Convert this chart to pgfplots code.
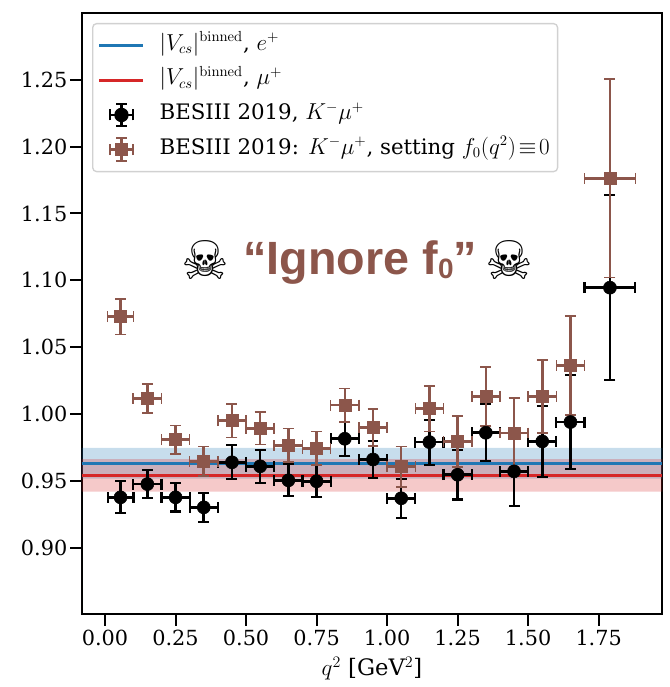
\documentclass[border=0pt]{standalone}
\usepackage[no-math]{fontspec}
\setmainfont{DejaVu Serif}
\newfontfamily\heros{Liberation Sans}
\newfontfamily\djs{DejaVu Sans}
\usepackage{pgfplots}
\usepackage{pgfplotstable}
\pgfplotsset{compat=1.18}
\definecolor{tabblue}{HTML}{1F77B4}
\definecolor{tabred}{HTML}{D62728}
\definecolor{tabbrown}{HTML}{8C564B}
\pgfplotstableread{
x ex y ey
0.055 0.046 0.9377 0.0120
0.15 0.05 0.9476 0.0103
0.25 0.05 0.9377 0.0106
0.35 0.05 0.9302 0.0110
0.45 0.05 0.9639 0.0128
0.55 0.05 0.9609 0.0122
0.65 0.05 0.9504 0.0120
0.75 0.05 0.9497 0.0120
0.85 0.05 0.9815 0.0128
0.95 0.05 0.9660 0.0141
1.05 0.05 0.9370 0.0147
1.15 0.05 0.9790 0.0168
1.25 0.05 0.9546 0.0185
1.35 0.05 0.9860 0.0213
1.45 0.05 0.9571 0.0257
1.55 0.05 0.9795 0.0263
1.65 0.05 0.9940 0.0353
1.79 0.09 1.0945 0.0690
}\besblack
\pgfplotstableread{
x ex y ey
0.055 0.046 1.0728 0.0133
0.15 0.05 1.0117 0.0109
0.25 0.05 0.9808 0.0107
0.35 0.05 0.9646 0.0110
0.45 0.05 0.9950 0.0125
0.55 0.05 0.9893 0.0121
0.65 0.05 0.9766 0.0125
0.75 0.05 0.9743 0.0125
0.85 0.05 1.0067 0.0125
0.95 0.05 0.9900 0.0138
1.05 0.05 0.9606 0.0150
1.15 0.05 1.0040 0.0171
1.25 0.05 0.9796 0.0191
1.35 0.05 1.0132 0.0221
1.45 0.05 0.9858 0.0264
1.55 0.05 1.0132 0.0272
1.65 0.05 1.0364 0.0371
1.79 0.09 1.1763 0.0741
}\besbrown
\pgfplotstableread{
x y
-0.0826 0.9516
1.9755 0.9516
1.9755 0.9746
-0.0826 0.9746
}\bandblue
\pgfplotstableread{
x y
-0.0826 0.9419
1.9755 0.9419
1.9755 0.9663
-0.0826 0.9663
}\bandred
\pgfplotstableread{
x y
-0.0826 0.9631
1.9755 0.9631
}\lineblue
\pgfplotstableread{
x y
-0.0826 0.9541
1.9755 0.9541
}\linered
\begin{document}
\begin{tikzpicture}
\path[use as bounding box] (0,0) rectangle (502.5pt,515.25pt);
\begin{axis}[
  at={(61.3pt,54.5pt)}, anchor=south west,
  scale only axis, width=435.4pt, height=451.2pt,
  xmin=-0.0826, xmax=1.9755, ymin=0.8502, ymax=1.3001,
  xtick={0,0.25,0.5,0.75,1,1.25,1.5,1.75},
  ytick={0.9,0.95,1,1.05,1.1,1.15,1.2,1.25},
  tick pos=left, tick align=outside,
  major tick length=8.5pt,
  every tick/.style={black,line width=1.5pt},
  axis line style={line width=1.7pt,black},
  tick label style={font=\fontsize{15.6}{18}\selectfont,
    /pgf/number format/assume math mode=true,
    /pgf/number format/fixed,/pgf/number format/fixed zerofill,/pgf/number format/precision=2},
  yticklabel style={xshift=1.2pt},
  xlabel={$q^2$ [GeV$^2$]},
  xlabel style={font=\fontsize{17}{18}\selectfont,yshift=-1.5pt},
  legend style={
    at={(0.0177,0.983)}, anchor=north west, cells={anchor=west},
    draw=black!18, line width=1pt, rounded corners=3pt, fill=white,
    font=\fontsize{16}{18}\selectfont,
    nodes={text height=12pt,text depth=5pt},
    row sep=5pt, inner xsep=4pt, inner ysep=6pt,
  },
  legend cell align=left,
]
\addplot[forget plot,fill=tabblue,fill opacity=0.25,draw=none] table {\bandblue} \closedcycle;
\addplot[forget plot,fill=tabred,fill opacity=0.25,draw=none] table {\bandred} \closedcycle;
\addplot[tabblue,line width=2.2pt,
  legend image code/.code={\draw[sharp corners,tabblue,line width=2.2pt] (0,0)--(33pt,0); \path (42pt,0);}] table {\lineblue};
\addlegendentry{$|V_{cs}|^{\mathrm{binned}}$, $e^+$}
\addplot[tabred,line width=2.2pt,
  legend image code/.code={\draw[sharp corners,tabred,line width=2.2pt] (0,0)--(33pt,0); \path (42pt,0);}] table {\linered};
\addlegendentry{$|V_{cs}|^{\mathrm{binned}}$, $\mu^+$}
\addplot[black,only marks,mark=*,mark size=4.9pt,
  error bars/.cd,x dir=both,x explicit,y dir=both,y explicit,
  error bar style={line width=1.9pt,black},
  error mark options={rotate=90,mark size=4.1pt,line width=1.6pt,black},
  /pgfplots/legend image code/.code={
    \begin{scope}[sharp corners]
    \draw[black,line width=1.9pt] (16.5pt,-8.5pt)--(16.5pt,8.5pt) (8pt,0)--(25pt,0);
    \draw[black,line width=1.6pt] (12.4pt,-8.5pt)--(20.6pt,-8.5pt) (12.4pt,8.5pt)--(20.6pt,8.5pt)
      (8pt,-4.1pt)--(8pt,4.1pt) (25pt,-4.1pt)--(25pt,4.1pt);
    \fill[black] (16.5pt,0) circle (4.9pt);
    \path (42pt,0);
    \end{scope}}
] table[x=x,y=y,x error=ex,y error=ey] {\besblack};
\addlegendentry{BESIII 2019, $K^-\mu^+$}
\addplot[tabbrown,only marks,mark=square*,mark size=4.5pt,
  error bars/.cd,x dir=both,x explicit,y dir=both,y explicit,
  error bar style={line width=1.9pt,tabbrown},
  error mark options={rotate=90,mark size=4.1pt,line width=1.2pt,tabbrown},
  /pgfplots/legend image code/.code={
    \begin{scope}[sharp corners]
    \draw[tabbrown,line width=1.9pt] (16.5pt,-8.5pt)--(16.5pt,8.5pt) (8pt,0)--(25pt,0);
    \draw[tabbrown,line width=1.2pt] (12.4pt,-8.5pt)--(20.6pt,-8.5pt) (12.4pt,8.5pt)--(20.6pt,8.5pt)
      (8pt,-4.1pt)--(8pt,4.1pt) (25pt,-4.1pt)--(25pt,4.1pt);
    \fill[tabbrown] (12pt,-4.5pt) rectangle (21pt,4.5pt);
    \path (42pt,0);
    \end{scope}}
] table[x=x,y=y,x error=ex,y error=ey] {\besbrown};
\addlegendentry{BESIII 2019: $K^-\mu^+$, setting $f_0(q^2)\!\equiv\!0$}
\node[font=\heros\bfseries\fontsize{35}{40}\selectfont,text=tabbrown,inner sep=0pt] at (axis cs:0.905,1.1135)
  {“Ignore f\raisebox{-3pt}{\fontsize{21}{22}\selectfont 0}”};
\node[font=\djs\fontsize{40}{44}\selectfont,inner sep=0pt] at (axis cs:0.356,1.115) {☠};
\node[font=\djs\fontsize{40}{44}\selectfont,inner sep=0pt] at (axis cs:1.4325,1.115) {☠};
\end{axis}
\end{tikzpicture}
\end{document}
